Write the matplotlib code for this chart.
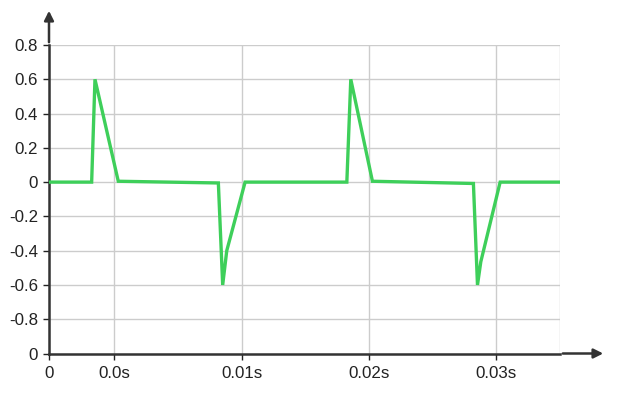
import numpy as np
import matplotlib.pyplot as plt

plt.rcParams['font.family'] = ['Liberation Sans', 'DejaVu Sans']

# signal samples (time in s, value)
t = [-0.00513, -0.00178, -0.00152, 0.00031, 0.00817, 0.00851, 0.00883, 0.01027,
     0.01826, 0.01857, 0.02027, 0.02820, 0.02852, 0.02878, 0.03030, 0.03500]
v = [0.0, 0.0, 0.60, 0.005, -0.005, -0.60, -0.40, 0.0,
     0.0, 0.60, 0.005, -0.008, -0.60, -0.465, 0.0, 0.0]

xticks = [-0.00513, 0.0, 0.01, 0.02, 0.03]
xlabels = ["0", "0.0s", "0.01s", "0.02s", "0.03s"]
yticks = [-1.0, -0.8, -0.6, -0.4, -0.2, 0.0, 0.2, 0.4, 0.6, 0.8]
ylabels = ["0", "-0.8", "-0.6", "-0.4", "-0.2", "0", "0.2", "0.4", "0.6", "0.8"]

fig = plt.figure(figsize=(6.26, 4.07), dpi=100)
ax = fig.add_axes([49 / 626, 1 - 353.5 / 407, (560 - 49) / 626, (353.5 - 45) / 407])

ax.plot(t, v, color="#3ecf5a", lw=2.4, solid_joinstyle="miter", zorder=3)

ax.set_xlim(t[0], t[-1])
ax.set_ylim(-1.0, 0.8)
ax.set_xticks(xticks + [t[-1]])
ax.set_xticklabels(xlabels + [""])
ax.set_yticks(yticks)
ax.set_yticklabels(ylabels)
ax.grid(True, color="#cccccc", lw=1)
ax.tick_params(labelsize=12.2, colors="#222222", length=4, width=1, pad=4)
ax.tick_params(axis="x", pad=5)
ax.xaxis.get_major_ticks()[-1].tick1line.set_visible(False)

for s in ["top", "right"]:
    ax.spines[s].set_visible(False)
for s in ["left", "bottom"]:
    ax.spines[s].set_color("#333333")
    ax.spines[s].set_linewidth(1.8)

# axis arrows
ax.annotate("", xy=(49 / 626, 1 - 8 / 407), xytext=(49 / 626, 1 - 45 / 407),
            xycoords="figure fraction",
            arrowprops=dict(arrowstyle="-|>", color="#333333", lw=1.8, mutation_scale=14))
ax.annotate("", xy=(606 / 626, 1 - 353.5 / 407), xytext=(560 / 626, 1 - 353.5 / 407),
            xycoords="figure fraction",
            arrowprops=dict(arrowstyle="-|>", color="#333333", lw=1.8, mutation_scale=14))

fig.savefig("out.png", dpi=100)
